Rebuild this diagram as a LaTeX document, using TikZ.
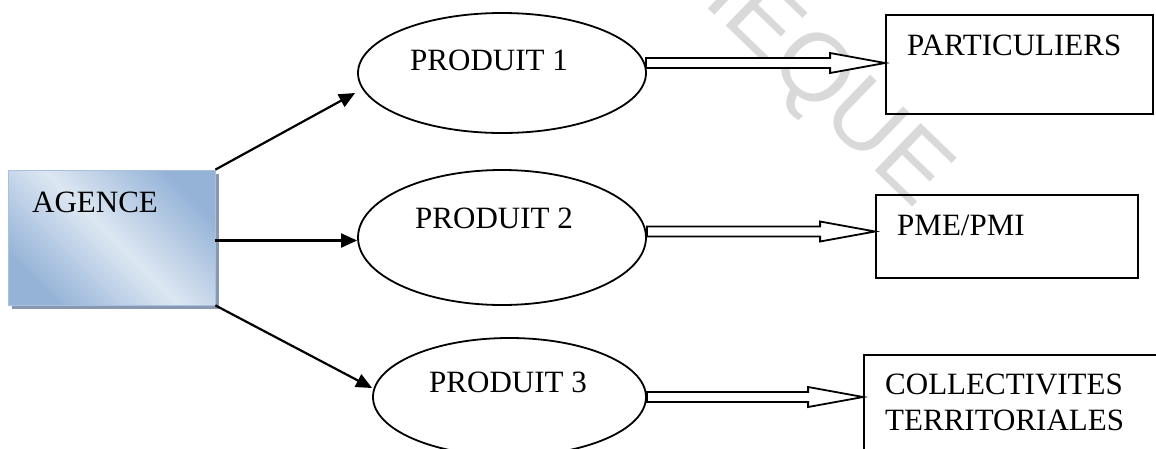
\documentclass[tikz,border=0pt]{standalone}
\usepackage{fontspec}
\setmainfont{Liberation Serif}
\newfontfamily\wmfont{Liberation Sans}
\usetikzlibrary{arrows.meta,shapes.geometric,calc,shadows}

\definecolor{agdark}{HTML}{95B3D7}
\definecolor{aglight}{HTML}{DDE7F2}
\definecolor{agborder}{HTML}{A9C1DE}
\definecolor{agshadow}{HTML}{8898B0}
\definecolor{wmgray}{HTML}{D9D9D9}

% draws a hollow (outlined) block arrow from #1 to the tip #2 (same height)
\newcommand\hollowarrow[2]{%
  \draw[hollow] ($(#1)+(0,-5)$) -- ($(#2)+(-55,-5)$) -- ($(#2)+(-55,-10)$)
    -- (#2) -- ($(#2)+(-55,10)$) -- ($(#2)+(-55,5)$) -- ($(#1)+(0,5)$) -- cycle;}

\begin{document}
\begin{tikzpicture}[x=1pt,y=-1pt,
  txt/.style={inner sep=0pt, anchor=base west, font=\fontsize{31}{36}\selectfont},
  prod/.style={ellipse, draw, line width=1.8pt, inner sep=0pt},
  target/.style={rectangle, draw, line width=1.8pt, inner sep=0pt},
  arr/.style={line width=2.2pt, -{Triangle[length=16pt,width=14pt]}},
  hollow/.style={draw, fill=white, line width=1.8pt, line join=miter}
]
\useasboundingbox (0,0) rectangle (1156,448);
\clip (0,0) rectangle (1156,448);

% faint watermark behind everything
\node[inner sep=0pt, anchor=base east, rotate=-44, text=wmgray,
      font=\wmfont\fontsize{96}{96}\selectfont] (wm) at (916,210) {BIBLIOTHEQUE};

% source box with gradient and drop shadow
\node[rectangle, minimum width=207pt, minimum height=135pt, inner sep=0pt,
      draw=agborder, line width=0.8pt,
      top color=agdark, bottom color=agdark, middle color=aglight, shading angle=-45,
      drop shadow={shadow xshift=4pt, shadow yshift=-4pt, fill=agshadow, opacity=1}]
      (ag) at (111.5,237.5) {};
\node[txt] (agt) at (32,212) {AGENCE};

% products
\node[prod, minimum width=288pt, minimum height=120pt] (p1) at (502,73) {};
\node[prod, minimum width=288pt, minimum height=135pt] (p2) at (502,237.5) {};
\node[prod, minimum width=273pt, minimum height=118pt] (p3) at (509.5,397) {};
\node[txt] (p1t) at (410,70) {PRODUIT 1};
\node[txt] (p2t) at (415,228) {PRODUIT 2};
\node[txt] (p3t) at (429,392) {PRODUIT 3};

% customer segments
\node[target, minimum width=267pt, minimum height=99pt] (b1) at (1019.5,64.5) {};
\node[target, minimum width=262pt, minimum height=83pt] (b2) at (1007,236.5) {};
\node[target, minimum width=300pt, minimum height=120pt] (b3) at (1014,415) {};
\node[txt] (b1t) at (907,55) {PARTICULIERS};
\node[txt] (b2t) at (897,235) {PME/PMI};
\node[txt] (b3t) at (885,394) {COLLECTIVITES};
\node[txt] (b3u) at (885,430) {TERRITORIALES};

% agency to products
\draw[arr] (ag.north east) -- ($(p1.west)+(-2,20)$);
\draw[arr] ($(ag.east)+(0,3)$) -- ($(p2.west)+(0,3)$);
\draw[arr] (ag.south east) -- ($(p3.west)+(0,-9)$);

% products to segments
\coordinate (a1s) at ($(p1.east)+(-1,-10)$);
\coordinate (a2s) at ($(p2.east)+(0,-6)$);
\coordinate (a3s) at (p3.east);
\hollowarrow{a1s}{b1.west |- a1s}
\hollowarrow{a2s}{b2.west |- a2s}
\hollowarrow{a3s}{b3.west |- a3s}
\end{tikzpicture}
\end{document}
